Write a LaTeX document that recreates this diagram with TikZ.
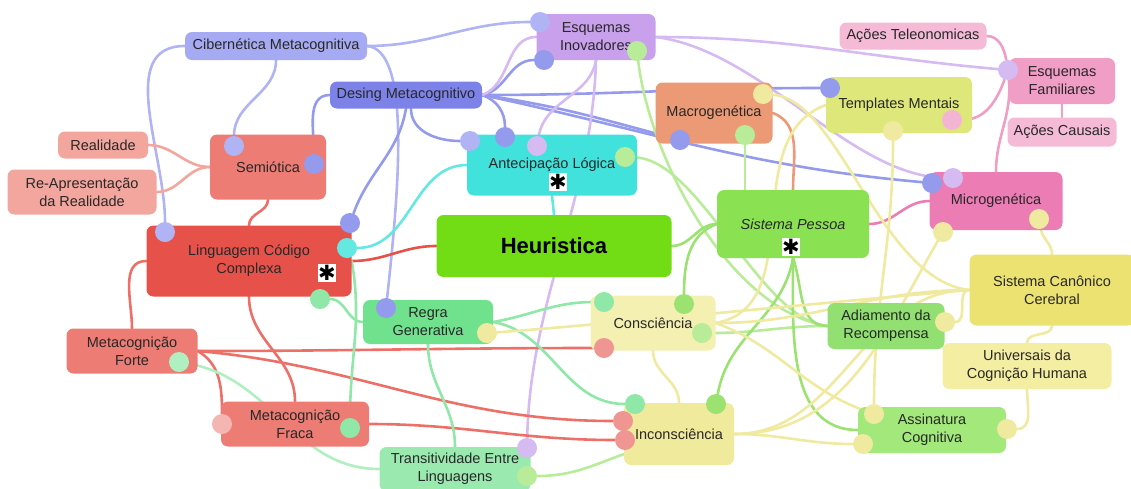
\documentclass[tikz,border=0pt]{standalone}
\usepackage{fontspec}
\setmainfont{Liberation Sans}
\newfontfamily\symfont{DejaVu Sans}
\usetikzlibrary{positioning, backgrounds}
\definecolor{cibblue}{RGB}{166,170,242}
\definecolor{desblue}{RGB}{124,130,232}
\definecolor{inovlilac}{RGB}{200,160,236}
\definecolor{antcyan}{RGB}{66,226,220}
\definecolor{macroorange}{RGB}{236,154,118}
\definecolor{templlime}{RGB}{222,232,122}
\definecolor{telepink}{RGB}{244,186,214}
\definecolor{familpink}{RGB}{240,158,198}
\definecolor{micropink}{RGB}{236,124,180}
\definecolor{pessoagreen}{RGB}{138,226,82}
\definecolor{heurgreen}{RGB}{114,220,20}
\definecolor{semred}{RGB}{236,124,116}
\definecolor{realsalmon}{RGB}{242,166,158}
\definecolor{lingred}{RGB}{230,82,74}
\definecolor{regramint}{RGB}{112,226,142}
\definecolor{transmint}{RGB}{154,234,176}
\definecolor{conscyellow}{RGB}{244,240,178}
\definecolor{inconscyellow}{RGB}{240,234,156}
\definecolor{adiamgreen}{RGB}{146,224,114}
\definecolor{canonyellow}{RGB}{236,226,114}
\definecolor{univyellow}{RGB}{244,238,162}
\definecolor{assingreen}{RGB}{162,232,122}
\definecolor{inkdark}{RGB}{40,40,40}
% dot and link colours
\definecolor{cibdot}{RGB}{176,180,244}
\definecolor{desdot}{RGB}{148,154,236}
\definecolor{lilacdot}{RGB}{214,186,242}
\definecolor{pessdot}{RGB}{184,236,152}
\definecolor{greendot}{RGB}{156,226,112}
\definecolor{canondot}{RGB}{240,234,160}
\definecolor{reddot}{RGB}{240,150,146}
\definecolor{linkred}{RGB}{236,112,104}
\definecolor{mintdot}{RGB}{144,232,168}
\definecolor{transdot}{RGB}{176,240,192}
\definecolor{cyandot}{RGB}{100,232,226}
\definecolor{pinkdot}{RGB}{244,180,212}

\begin{document}
\begin{tikzpicture}[x=1pt, y=1pt,
  topic/.style={rounded corners=7pt, inner sep=2pt, align=center, text=inkdark,
    font=\fontsize{14.5}{18}\selectfont},
  dot/.style={circle, inner sep=0pt, minimum size=20pt},
  link/.style={line width=2.6pt, line cap=round},
  star/.style={fill=white, inner sep=0pt, minimum size=18pt, font=\symfont\fontsize{21}{21}\selectfont}
]
  \useasboundingbox (0,0) rectangle (1131,-488);

  \node[topic, fill=cibblue, minimum width=182pt, minimum height=28pt] (cib) at (276,-46) {Cibernética Metacognitiva};
  \node[topic, fill=desblue, minimum width=152pt, minimum height=27pt] (desing) at (406,-95) {Desing Metacognitivo};
  \node[topic, fill=inovlilac, minimum width=119pt, minimum height=46pt] (inov) at (596,-37) {Esquemas\\Inovadores};
  \node[topic, fill=antcyan, minimum width=170pt, minimum height=61pt] (antec) at (552,-165) {Antecipação Lógica};
  \node[topic, fill=macroorange, minimum width=117pt, minimum height=61pt] (macro) at (714,-113) {Macrogenética};
  \node[topic, fill=templlime, minimum width=146pt, minimum height=56pt] (templ) at (899,-105) {Templates Mentais};
  \node[topic, fill=telepink, minimum width=147pt, minimum height=27pt] (teleo) at (913,-36) {Ações Teleonomicas};
  \node[topic, fill=familpink, minimum width=106pt, minimum height=46pt] (famil) at (1062,-81) {Esquemas\\Familiares};
  \node[topic, fill=telepink, minimum width=109pt, minimum height=29pt] (causais) at (1062,-132) {Ações Causais};
  \node[topic, fill=micropink, minimum width=133pt, minimum height=58pt] (micro) at (996,-201) {Microgenética};
  \node[topic, fill=pessoagreen, minimum width=152pt, minimum height=68pt] (pessoa) at (793,-224) {\itshape Sistema Pessoa};
  \node[topic, fill=heurgreen, minimum width=235pt, minimum height=62pt,
    font=\fontsize{22}{26}\selectfont\bfseries, text=black] (heur) at (554,-246) {Heuristica};
  \node[topic, fill=semred, minimum width=116pt, minimum height=65pt] (semio) at (268,-167) {Semiótica};
  \node[topic, fill=realsalmon, minimum width=90pt, minimum height=27pt] (real) at (103,-145) {Realidade};
  \node[topic, fill=realsalmon, minimum width=149pt, minimum height=45pt] (reap) at (82,-192) {Re-Apresentação\\da Realidade};
  \node[topic, fill=lingred, minimum width=205pt, minimum height=71pt] (ling) at (249,-261) {Linguagem Código\\Complexa};
  \node[topic, fill=semred, minimum width=131pt, minimum height=45pt] (forte) at (132,-351) {Metacognição\\Forte};
  \node[topic, fill=semred, minimum width=148pt, minimum height=45pt] (fraca) at (295,-424) {Metacognição\\Fraca};
  \node[topic, fill=regramint, minimum width=130pt, minimum height=44pt] (regra) at (428,-322) {Regra\\Generativa};
  \node[topic, fill=transmint, minimum width=151pt, minimum height=44pt] (trans) at (455,-469) {Transitividade Entre\\Linguagens};
  \node[topic, fill=conscyellow, minimum width=125pt, minimum height=55pt] (consc) at (653,-323) {Consciência};
  \node[topic, fill=inconscyellow, minimum width=110pt, minimum height=62pt] (inconsc) at (679,-434) {Inconsciência};
  \node[topic, fill=adiamgreen, minimum width=117pt, minimum height=46pt] (adiam) at (886,-326) {Adiamento da\\Recompensa};
  \node[topic, fill=canonyellow, minimum width=165pt, minimum height=71pt] (canon) at (1052,-290) {Sistema Canônico\\Cerebral};
  \node[topic, fill=univyellow, minimum width=169pt, minimum height=46pt] (univ) at (1027,-366) {Universais da\\Cognição Humana};
  \node[topic, fill=assingreen, minimum width=148pt, minimum height=46pt] (assin) at (932,-430) {Assinatura\\Cognitiva};

  % attachment dots
  \node[dot, fill=cibdot] (d_inov1) at (540,-22) {};
  \node[dot, fill=desdot] (d_inov2) at (544,-60) {};
  \node[dot, fill=pessdot] (d_inov3) at (637,-51) {};
  \node[dot, fill=cibdot] (d_ant1) at (470,-141) {};
  \node[dot, fill=desdot] (d_ant2) at (505,-137) {};
  \node[dot, fill=lilacdot] (d_ant3) at (537,-146) {};
  \node[dot, fill=pessdot] (d_ant4) at (625,-157) {};
  \node[dot, fill=canondot] (d_mac1) at (763,-94) {};
  \node[dot, fill=desdot] (d_mac2) at (680,-140) {};
  \node[dot, fill=pessdot] (d_mac3) at (745,-135) {};
  \node[dot, fill=desdot] (d_tem1) at (830,-88) {};
  \node[dot, fill=pinkdot] (d_tem2) at (952,-120) {};
  \node[dot, fill=canondot] (d_tem3) at (893,-131) {};
  \node[dot, fill=lilacdot] (d_fam) at (1008,-70) {};
  \node[dot, fill=desdot] (d_mic1) at (932,-183) {};
  \node[dot, fill=lilacdot] (d_mic2) at (953,-178) {};
  \node[dot, fill=canondot] (d_mic3) at (1039,-219) {};
  \node[dot, fill=canondot] (d_mic4) at (943,-232) {};
  \node[dot, fill=cibdot] (d_sem1) at (234,-146) {};
  \node[dot, fill=desdot] (d_sem2) at (314,-164) {};
  \node[dot, fill=cibdot] (d_lin1) at (165,-232) {};
  \node[dot, fill=desdot] (d_lin2) at (350,-223) {};
  \node[dot, fill=cyandot] (d_lin3) at (347,-248) {};
  \node[dot, fill=mintdot] (d_lin4) at (320,-299) {};
  \node[dot, fill=transdot] (d_for) at (179,-362) {};
  \node[dot, fill=reddot!70!white] (d_fra1) at (222,-424) {};
  \node[dot, fill=mintdot] (d_fra2) at (350,-428) {};
  \node[dot, fill=desdot] (d_reg1) at (386,-308) {};
  \node[dot, fill=canondot] (d_reg2) at (487,-333) {};
  \node[dot, fill=mintdot] (d_con1) at (604,-302) {};
  \node[dot, fill=greendot] (d_con2) at (684,-304) {};
  \node[dot, fill=pessdot] (d_con3) at (702,-333) {};
  \node[dot, fill=reddot] (d_con4) at (604,-348) {};
  \node[dot, fill=mintdot] (d_inc1) at (635,-404) {};
  \node[dot, fill=greendot] (d_inc2) at (716,-404) {};
  \node[dot, fill=reddot] (d_inc3) at (623,-421) {};
  \node[dot, fill=reddot] (d_inc4) at (625,-440) {};
  \node[dot, fill=lilacdot] (d_tra1) at (527,-448) {};
  \node[dot, fill=pessdot] (d_tra2) at (527,-476) {};
  \node[dot, fill=canondot] (d_adi) at (945,-322) {};
  \node[dot, fill=canondot] (d_ass1) at (874,-414) {};
  \node[dot, fill=canondot] (d_ass2) at (863,-444) {};
  \node[dot, fill=canondot] (d_ass3) at (1007,-429) {};

  % asterisk marks
  \node[star] (s_ant) at (558,-182) {✱};
  \node[star] (s_lin) at (327,-273) {✱};
  \node[star] (s_pes) at (791,-247) {✱};

  \begin{pgfonlayer}{background}
    % Cibernetica links
    \draw[link, cibdot] (cib.west) to[out=180, in=90] (d_lin1);
    \draw[link, cibdot] (cib.south) to[out=-90, in=90] (d_sem1);
    \draw[link, cibdot] (cib.east) to[out=0, in=180] (d_inov1);
    \draw[link, cibdot] (cib.east) .. controls (410,-50) and (400,-180) .. (d_reg1);
    % Desing links
    \draw[link, desdot] (desing.west) to[out=180, in=90] (d_sem2);
    \draw[link, desdot] (desing.south) to[out=-100, in=70] (d_lin2);
    \draw[link, desdot] (desing.east) to[out=10, in=180] (d_inov2);
    \draw[link, desdot] (desing.east) to[out=-20, in=90] (d_ant2);
    \draw[link, desdot] (desing.-70) to[out=-90, in=180] (d_ant1);
    \draw[link, desdot] (desing.east) to[out=0, in=180] (d_tem1);
    \draw[link, desdot] (desing.east) to[out=-8, in=165] (d_mac2);
    \draw[link, desdot] (desing.east) to[out=-12, in=175] (d_mic1);
    % Esquemas Inovadores links
    \draw[link, lilacdot] (inov.west) to[out=180, in=20] (desing.east);
    \draw[link, lilacdot] (inov.south) to[out=-100, in=80] (d_ant3);
    \draw[link, lilacdot] (inov.south) .. controls (592,-200) and (530,-300) .. (d_tra1);
    \draw[link, lilacdot] (inov.east) to[out=0, in=175] (d_fam);
    \draw[link, lilacdot] (inov.east) .. controls (760,-50) and (850,-175) .. (d_mic2);
    % Antecipacao links
    \draw[link, cyandot] (antec.west) to[out=180, in=0] (d_lin3);
    \draw[link, cyandot] (antec.south) to (heur.north);
    % red links
    \draw[link, lingred] (heur.west) to[out=180, in=0] (ling.east);
    \draw[link, linkred] (ling.north) to[out=90, in=-90] (semio.south);
    \draw[link, realsalmon] (semio.west) to[out=180, in=0] (real.east);
    \draw[link, realsalmon] (semio.west) to[out=180, in=0] (reap.east);
    \draw[link, linkred] (ling.west) to[out=180, in=90] (forte.north);
    \draw[link, linkred] (ling.south) to[out=-90, in=90] (fraca.north);
    \draw[link, linkred] (forte.east) to[out=0, in=180] (d_con4);
    \draw[link, linkred] (forte.east) to[out=-5, in=180] (d_inc3);
    \draw[link, linkred] (forte.east) to[out=-30, in=90] (d_fra1);
    \draw[link, linkred] (fraca.east) to[out=0, in=180] (d_inc4);
    % Regra links
    \draw[link, mintdot] (d_lin4) to[out=0, in=180] (regra.west);
    \draw[link, mintdot] (d_fra2) to[out=90, in=-80] (ling.east);
    \draw[link, mintdot] (regra.south) to[out=-90, in=90] (trans.north);
    \draw[link, mintdot] (regra.east) to[out=10, in=180] (d_con1);
    \draw[link, mintdot] (regra.east) to[out=-10, in=180] (d_inc1);
    \draw[link, transdot] (d_for) to[out=-10, in=180] (trans.west);
    % Sistema Pessoa links
    \draw[link, pessdot] (d_inov3) .. controls (650,-160) and (730,-310) .. (adiam.west);
    \draw[link, pessdot] (d_ant4) .. controls (700,-160) and (760,-320) .. (adiam.west);
    \draw[link, pessdot] (d_mac3) to (d_mac3 |- pessoa.north);
    \draw[link, greendot] (heur.east) to[out=0, in=180] (pessoa.west);
    \draw[link, greendot] (pessoa.west) to[out=200, in=90] (d_con2);
    \draw[link, pessdot] (d_con3) to[out=0, in=180] (adiam.west);
    \draw[link, greendot] (pessoa.south) to[out=-100, in=80] (d_inc2);
    \draw[link, greendot] (pessoa.south) to[out=-70, in=180] (adiam.west);
    \draw[link, greendot] (pessoa.south) to[out=-90, in=180] (assin.west);
    \draw[link, pessdot] (d_tra2) to[out=0, in=200] (inconsc.200);
    \draw[link, macroorange] (macro.east) to[out=-20, in=90] (pessoa.north);
    % pink links
    \draw[link, micropink] (pessoa.east) to[out=0, in=180] (micro.west);
    \draw[link, familpink] (micro.north) to[out=90, in=-85] (d_fam);
    \draw[link, familpink] (d_tem2) to[out=0, in=-110] (d_fam);
    \draw[link, familpink] (teleo.east) to[out=0, in=100] (d_fam);
    \draw[link, familpink] (famil.south) to (causais.north);
    % Sistema Canonico links
    \draw[link, canondot] (d_mac1) .. controls (840,-100) and (880,-280) .. (canon.west);
    \draw[link, canondot] (d_tem3) to[out=-90, in=90] (d_ass1);
    \draw[link, canondot] (templ.west) to[out=200, in=10] (consc.east);
    \draw[link, canondot] (d_mic4) to[out=-120, in=0] (inconsc.east);
    \draw[link, canondot] (d_mic3) to[out=-80, in=90] (canon.north);
    \draw[link, canondot] (canon.west) to[out=180, in=0] (consc.east);
    \draw[link, canondot] (d_reg2) .. controls (600,-325) and (850,-300) .. (canon.west);
    \draw[link, canondot] (canon.west) to[out=180, in=0] (d_adi);
    \draw[link, canondot] (canon.west) to[out=180, in=0] (inconsc.east);
    \draw[link, canondot] (inconsc.east) to[out=0, in=180] (d_ass2);
    \draw[link, canondot] (consc.east) to[out=-20, in=160] (d_ass1);
    \draw[link, canondot] (univ.north) to[out=90, in=-90] (canon.south);
    \draw[link, canondot] (univ.south) to[out=-90, in=0] (d_ass3);
    \draw[link, canondot] (consc.south) to[out=-90, in=90] (inconsc.north);
  \end{pgfonlayer}
\end{tikzpicture}
\end{document}
